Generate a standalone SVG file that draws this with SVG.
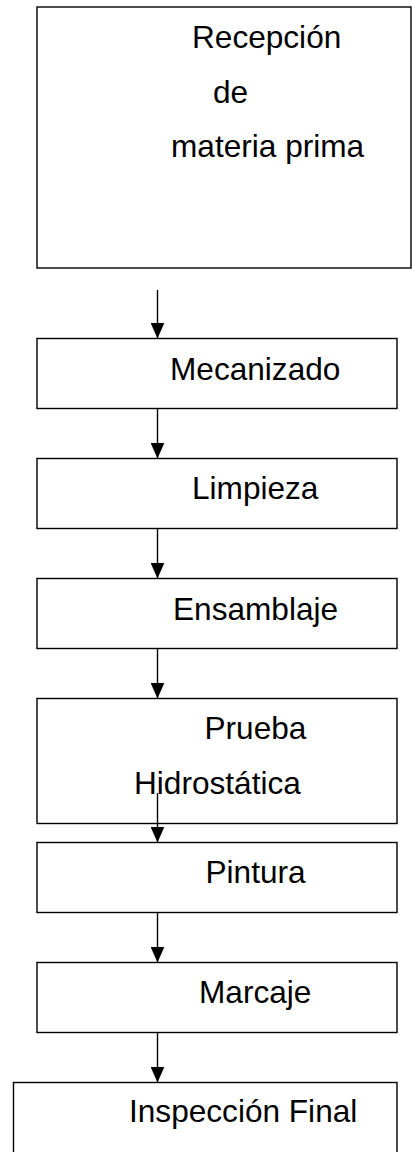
<svg xmlns="http://www.w3.org/2000/svg" width="412" height="1152" viewBox="0 0 412 1152">
<style>
.box{fill:#fff;stroke:#000;stroke-width:1.4}
.lbl{font-family:"Liberation Sans",Arial,sans-serif;font-size:31.6px;fill:#000}
.con{stroke:#000;stroke-width:1.4;fill:none;marker-end:url(#ah)}
</style>
<defs>
<marker id="ah" markerUnits="userSpaceOnUse" markerWidth="16" markerHeight="14" refX="16" refY="7" orient="auto" viewBox="0 0 16 14">
<path d="M0,0 L16,7 L0,14 Z" fill="#000"/>
</marker>
</defs>
<rect width="412" height="1152" fill="#fff"/>
<g id="n1"><rect class="box" x="37" y="7" width="374" height="261"/>
<text class="lbl" x="192" y="48">Recepción</text>
<text class="lbl" x="213" y="103">de</text>
<text class="lbl" x="171" y="157">materia prima</text></g>
<g id="n2"><rect class="box" x="37" y="338.5" width="360" height="70"/><text class="lbl" x="170" y="379.5">Mecanizado</text></g>
<g id="n3"><rect class="box" x="37" y="458.5" width="360" height="70"/><text class="lbl" x="192" y="498.5">Limpieza</text></g>
<g id="n4"><rect class="box" x="37" y="578.5" width="360" height="70"/><text class="lbl" x="173" y="619.5">Ensamblaje</text></g>
<g id="n5"><rect class="box" x="37" y="698.5" width="360" height="125"/><text class="lbl" x="204.5" y="738.5">Prueba</text><text class="lbl" x="134" y="793.5">Hidrostática</text></g>
<g id="n6"><rect class="box" x="37" y="842.5" width="360" height="70"/><text class="lbl" x="205.5" y="882.5">Pintura</text></g>
<g id="n7"><rect class="box" x="37" y="962.5" width="360" height="70"/><text class="lbl" x="199" y="1002.5">Marcaje</text></g>
<g id="n8"><rect class="box" x="13.5" y="1082.5" width="383.5" height="100"/><text class="lbl" x="129" y="1122">Inspección Final</text></g>
<g id="connectors">
<line class="con" x1="157.5" y1="290" x2="157.5" y2="338.5"/>
<line class="con" x1="157.5" y1="408.5" x2="157.5" y2="458.5"/>
<line class="con" x1="157.5" y1="528.5" x2="157.5" y2="578.5"/>
<line class="con" x1="157.5" y1="648.5" x2="157.5" y2="698.5"/>
<line class="con" x1="157.5" y1="793" x2="157.5" y2="842.5"/>
<line class="con" x1="157.5" y1="912.5" x2="157.5" y2="962.5"/>
<line class="con" x1="157.5" y1="1032.5" x2="157.5" y2="1082.5"/>
</g>
</svg>
